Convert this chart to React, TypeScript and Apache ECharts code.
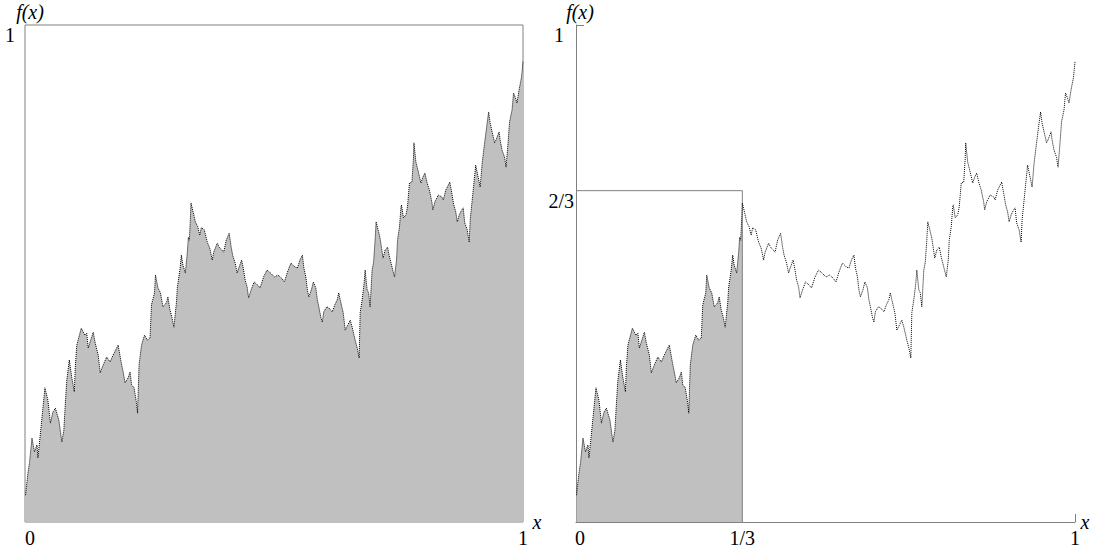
import { useEffect, useRef } from "react";
import * as echarts from "echarts";

// Fractal curve f(x)
const curveX = [
  0.001, 0.006, 0.009, 0.014, 0.019, 0.024, 0.026, 0.031, 0.040, 0.046,
  0.051, 0.056, 0.061, 0.068, 0.074, 0.078, 0.081, 0.084, 0.089, 0.094,
  0.099, 0.101, 0.104, 0.113, 0.120, 0.124, 0.127, 0.137, 0.141, 0.147,
  0.151, 0.157, 0.164, 0.171, 0.177, 0.182, 0.187, 0.193, 0.197, 0.201,
  0.207, 0.211, 0.214, 0.219, 0.224, 0.226, 0.229, 0.234, 0.240, 0.246,
  0.251, 0.254, 0.260, 0.262, 0.267, 0.272, 0.277, 0.284, 0.287, 0.291,
  0.295, 0.299, 0.304, 0.306, 0.311, 0.314, 0.317, 0.322, 0.326, 0.328,
  0.330, 0.332, 0.3333, 0.338, 0.342, 0.347, 0.351, 0.354, 0.360, 0.366,
  0.371, 0.376, 0.379, 0.386, 0.390, 0.399, 0.404, 0.410, 0.414, 0.417,
  0.422, 0.426, 0.430, 0.435, 0.439, 0.442, 0.446, 0.449, 0.454, 0.460,
  0.467, 0.472, 0.479, 0.486, 0.493, 0.501, 0.508, 0.515, 0.521, 0.527,
  0.534, 0.542, 0.547, 0.552, 0.557, 0.560, 0.564, 0.567, 0.570, 0.575,
  0.579, 0.584, 0.587, 0.590, 0.594, 0.597, 0.600, 0.606, 0.610, 0.617,
  0.622, 0.627, 0.630, 0.633, 0.639, 0.643, 0.648, 0.653, 0.657, 0.663,
  0.668, 0.671, 0.673, 0.677, 0.681, 0.683, 0.687, 0.690, 0.693, 0.697,
  0.700, 0.703, 0.705, 0.710, 0.713, 0.719, 0.723, 0.728, 0.732, 0.737,
  0.742, 0.746, 0.748, 0.752, 0.755, 0.756, 0.760, 0.765, 0.768, 0.772,
  0.777, 0.780, 0.781, 0.785, 0.790, 0.795, 0.799, 0.803, 0.807, 0.812,
  0.817, 0.819, 0.823, 0.830, 0.837, 0.840, 0.845, 0.850, 0.853, 0.857,
  0.861, 0.865, 0.868, 0.872, 0.877, 0.880, 0.883, 0.888, 0.892, 0.894,
  0.898, 0.905, 0.910, 0.914, 0.918, 0.923, 0.928, 0.931, 0.934, 0.938,
  0.943, 0.946, 0.952, 0.954, 0.958, 0.963, 0.966, 0.970, 0.973, 0.978,
  0.981, 0.985, 0.988, 0.992, 0.997, 1.000,
];
const curveY = [
  0.054, 0.099, 0.119, 0.169, 0.141, 0.155, 0.129, 0.179, 0.270, 0.245,
  0.199, 0.221, 0.229, 0.205, 0.161, 0.185, 0.239, 0.286, 0.326, 0.290,
  0.262, 0.312, 0.356, 0.390, 0.376, 0.380, 0.350, 0.382, 0.360, 0.336,
  0.300, 0.316, 0.332, 0.322, 0.336, 0.346, 0.356, 0.322, 0.302, 0.280,
  0.290, 0.302, 0.276, 0.270, 0.239, 0.219, 0.316, 0.356, 0.376, 0.366,
  0.370, 0.437, 0.461, 0.497, 0.471, 0.461, 0.433, 0.441, 0.453, 0.427,
  0.412, 0.392, 0.441, 0.473, 0.507, 0.537, 0.517, 0.501, 0.543, 0.573,
  0.567, 0.608, 0.642, 0.622, 0.604, 0.594, 0.577, 0.592, 0.588, 0.563,
  0.551, 0.527, 0.543, 0.561, 0.553, 0.543, 0.567, 0.581, 0.553, 0.537,
  0.521, 0.501, 0.513, 0.527, 0.507, 0.487, 0.473, 0.451, 0.467, 0.483,
  0.477, 0.471, 0.493, 0.507, 0.501, 0.493, 0.497, 0.491, 0.483, 0.503,
  0.521, 0.513, 0.511, 0.527, 0.537, 0.511, 0.493, 0.467, 0.453, 0.467,
  0.483, 0.471, 0.447, 0.433, 0.412, 0.402, 0.423, 0.433, 0.431, 0.423,
  0.437, 0.447, 0.461, 0.447, 0.421, 0.386, 0.396, 0.406, 0.392, 0.366,
  0.346, 0.330, 0.421, 0.447, 0.481, 0.507, 0.467, 0.461, 0.433, 0.507,
  0.523, 0.567, 0.604, 0.584, 0.571, 0.531, 0.547, 0.553, 0.533, 0.513,
  0.493, 0.527, 0.567, 0.594, 0.634, 0.638, 0.612, 0.618, 0.634, 0.682,
  0.684, 0.732, 0.763, 0.724, 0.704, 0.682, 0.694, 0.702, 0.684, 0.668,
  0.644, 0.628, 0.644, 0.658, 0.654, 0.648, 0.668, 0.678, 0.684, 0.662,
  0.638, 0.624, 0.604, 0.618, 0.628, 0.632, 0.602, 0.588, 0.563, 0.608,
  0.648, 0.718, 0.694, 0.674, 0.722, 0.763, 0.803, 0.825, 0.803, 0.785,
  0.763, 0.769, 0.785, 0.769, 0.748, 0.734, 0.714, 0.763, 0.805, 0.829,
  0.863, 0.853, 0.843, 0.869, 0.895, 0.926,
];

// Axis tick labels
const leftXTicks = [0, 1];
const leftXTickLabels = ["0", "1"];
const leftYTicks = [1];
const leftYTickLabels = ["1"];
const rightXTicks = [0, 1 / 3, 1];
const rightXTickLabels = ["0", "1/3", "1"];
const rightYTicks = [2 / 3, 1];
const rightYTickLabels = ["2/3", "1"];

// Self-similar first third: corner of the guide rectangle
const thirdX = 1 / 3;
const twoThirdsY = 2 / 3;

const FONT = "'Liberation Serif', 'Times New Roman', serif";
const GRAY = "#808080";

function labelFor(ticks: number[], labels: string[], v: number) {
  for (let i = 0; i < ticks.length; i++) {
    if (Math.abs(ticks[i] - v) < 1e-6) return labels[i];
  }
  return "";
}

export default function App() {
  const ref = useRef<HTMLDivElement>(null);

  useEffect(() => {
    document.body.style.margin = "0";
    if (!ref.current) return;
    const chart = echarts.init(ref.current, undefined, { renderer: "svg" });

    const curve = curveX.map((x, i) => [x, curveY[i]]);
    const firstThird = curve.filter((p) => p[0] <= thirdX + 0.001);
    const guide = [
      [0, twoThirdsY],
      [thirdX, twoThirdsY],
      [thirdX, 0],
    ];

    const labelStyle = {
      color: "#000",
      fontFamily: FONT,
      fontSize: 20,
    };

    chart.setOption({
      animation: false,
      grid: [
        {
          left: 25,
          top: 25,
          width: 498,
          height: 497,
          show: true,
          borderColor: GRAY,
          borderWidth: 1,
          backgroundColor: "transparent",
        },
        { left: 576, top: 25, width: 499, height: 497 },
      ],
      xAxis: [
        {
          gridIndex: 0,
          type: "value",
          min: 0,
          max: 1,
          interval: 1,
          axisLine: { show: false },
          axisTick: { show: false },
          splitLine: { show: false },
          axisLabel: {
            ...labelStyle,
            margin: 6,
            formatter: (v: number) => {
              const t = labelFor(leftXTicks, leftXTickLabels, v);
              return v === 0 ? `{z|${t}}` : t;
            },
            rich: { z: { ...labelStyle, padding: [0, 0, 0, 10] } },
          },
        },
        {
          gridIndex: 1,
          type: "value",
          min: 0,
          max: 1,
          axisLine: { show: true, lineStyle: { color: GRAY, width: 1 } },
          axisTick: {
            show: true,
            inside: true,
            length: 8,
            customValues: [1],
            lineStyle: { color: GRAY },
          },
          splitLine: { show: false },
          axisLabel: {
            ...labelStyle,
            margin: 6,
            customValues: rightXTicks,
            formatter: (v: number) => {
              const t = labelFor(rightXTicks, rightXTickLabels, v);
              return v === 0 ? `{z|${t}}` : t;
            },
            rich: { z: { ...labelStyle, padding: [0, 0, 0, 8] } },
          },
        },
      ],
      yAxis: [
        {
          gridIndex: 0,
          type: "value",
          min: 0,
          max: 1,
          interval: 1,
          axisLine: { show: false },
          axisTick: { show: false },
          splitLine: { show: false },
          axisLabel: {
            ...labelStyle,
            margin: 10,
            verticalAlign: "top",
            showMinLabel: false,
            formatter: (v: number) => labelFor(leftYTicks, leftYTickLabels, v),
          },
        },
        {
          gridIndex: 1,
          type: "value",
          min: 0,
          max: 1,
          axisLine: { show: true, lineStyle: { color: GRAY, width: 1 } },
          axisTick: {
            show: true,
            inside: true,
            length: 8,
            customValues: [1],
            lineStyle: { color: GRAY },
          },
          splitLine: { show: false },
          axisLabel: {
            ...labelStyle,
            margin: 2,
            verticalAlign: "top",
            customValues: rightYTicks,
            formatter: (v: number) => {
              const t = labelFor(rightYTicks, rightYTickLabels, v);
              return v === 1 ? `{o|${t}}` : t;
            },
            rich: { o: { ...labelStyle, padding: [0, 10, 0, 0] } },
          },
        },
      ],
      series: [
        {
          type: "line",
          xAxisIndex: 0,
          yAxisIndex: 0,
          data: curve,
          showSymbol: false,
          symbol: "none",
          lineStyle: { color: "#000", width: 1, type: "dotted" },
          areaStyle: { color: "#c0c0c0", opacity: 1 },
          silent: true,
        },
        {
          type: "line",
          xAxisIndex: 1,
          yAxisIndex: 1,
          data: firstThird,
          symbol: "none",
          lineStyle: { width: 0 },
          areaStyle: { color: "#c0c0c0", opacity: 1 },
          silent: true,
        },
        {
          type: "line",
          xAxisIndex: 1,
          yAxisIndex: 1,
          data: guide,
          symbol: "none",
          lineStyle: { color: GRAY, width: 1 },
          silent: true,
        },
        {
          type: "line",
          xAxisIndex: 1,
          yAxisIndex: 1,
          data: curve,
          symbol: "none",
          lineStyle: { color: "#000", width: 1, type: "dotted" },
          silent: true,
        },
      ],
      graphic: [
        {
          type: "text",
          x: 30,
          y: 12,
          style: {
            text: "f(x)",
            fontFamily: FONT,
            fontStyle: "italic",
            fontSize: 20,
            fill: "#000",
            align: "center",
            verticalAlign: "middle",
          },
        },
        {
          type: "text",
          x: 580,
          y: 12,
          style: {
            text: "f(x)",
            fontFamily: FONT,
            fontStyle: "italic",
            fontSize: 20,
            fill: "#000",
            align: "center",
            verticalAlign: "middle",
          },
        },
        {
          type: "text",
          x: 537,
          y: 522,
          style: {
            text: "x",
            fontFamily: FONT,
            fontStyle: "italic",
            fontSize: 20,
            fill: "#000",
            align: "center",
            verticalAlign: "middle",
          },
        },
        {
          type: "text",
          x: 1085,
          y: 522,
          style: {
            text: "x",
            fontFamily: FONT,
            fontStyle: "italic",
            fontSize: 20,
            fill: "#000",
            align: "center",
            verticalAlign: "middle",
          },
        },
      ],
    });

    return () => chart.dispose();
  }, []);

  return <div ref={ref} style={{ width: 1100, height: 550 }} />;
}
